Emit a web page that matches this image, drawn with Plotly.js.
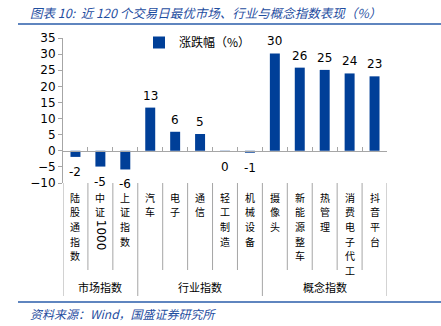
<!DOCTYPE html>
<html><head><meta charset="utf-8">
<script src="https://cdn.plot.ly/plotly-3.0.1.min.js"></script>
<style>html,body{margin:0;padding:0;background:#fff}#c{width:441px;height:326px}</style>
</head><body><div id="c"></div>
<script>
const categories = ["陆股通指数","中证1000","上证指数","汽车","电子","通信","轻工制造","机械设备","摄像头","新能源整车","热管理","消费电子代工","抖音平台"];
const values = [-1.9, -4.9, -5.8, 13.4, 5.9, 5.2, -0.3, -0.6, 30.2, 25.8, 25.1, 24.0, 23.1];
const groupNames = ["市场指数","行业指数","概念指数"];
const groupSizes = [3, 5, 5];
const seriesName = "涨跌幅（%）";
const titleText = "图表 10:  近 120 个交易日最优市场、行业与概念指数表现（%）";
const sourceText = "资料来源：Wind，国盛证券研究所";

const W = 441, H = 326, L = 63, R = 54, T = 38, B = 143;
const plotH = H - T - B, plotW = W - L - R;
const py = p => (H - B - p) / plotH;   // pixel y -> paper y
const px = p => (p - L) / plotW;       // pixel x -> paper x
const blue = "#003f98", grey = "#a6a6a6", textBlue = "#1f4e9f";
const cjk = "'Noto Sans CJK SC', sans-serif";
const num = "'DejaVu Sans', sans-serif";

const annotations = [];
const shapes = [];

// value labels
values.forEach((v, i) => {
  annotations.push({x: i, y: v, xref: "x", yref: "y", text: String(Math.round(v) || 0),
    showarrow: false, xanchor: "center", yanchor: v >= 0 ? "bottom" : "top", yshift: v >= 0 ? 3 : -6,
    font: {family: num, size: 12, color: "#000"}});
});

// vertical category labels (one character per row)
const FS = 10, LS = 14.6;
categories.forEach((c, i) => {
  const segs = c.match(/[0-9]+|[^0-9]/g);
  let yc = 190;
  segs.forEach(t => {
    if (/^[0-9]+$/.test(t)) {
      const len = t.length * 7.5;
      annotations.push({x: i, xref: "x", y: py(yc + 1 + len / 2), yref: "paper", text: t, textangle: 90,
        showarrow: false, xanchor: "center", yanchor: "middle", borderpad: 0,
        font: {family: num, size: 12, color: "#000"}});
      yc += len + 2;
    } else {
      annotations.push({x: i, xref: "x", y: py(yc + LS / 2), yref: "paper", text: t,
        showarrow: false, xanchor: "center", yanchor: "middle", borderpad: 0,
        font: {family: cjk, size: FS, color: "#000"}});
      yc += LS;
    }
  });
});

// separators and group labels
let start = 0;
const bounds = [-0.5];
groupSizes.forEach((n, g) => {
  annotations.push({x: start + (n - 1) / 2, xref: "x", y: py(287), yref: "paper", text: groupNames[g],
    showarrow: false, xanchor: "center", yanchor: "middle", font: {family: cjk, size: 11, color: "#000"}});
  start += n;
  bounds.push(start - 0.5);
});
for (let k = 0; k <= categories.length; k++) {
  const b = k - 0.5;
  const isGroup = bounds.includes(b);
  shapes.push({type: "line", xref: "x", yref: "paper", x0: b, x1: b, y0: 0, y1: py(isGroup ? 296 : 270),
    line: {color: grey, width: 1}});
}
// title/source rules
shapes.push({type: "line", xref: "paper", yref: "paper", x0: px(18), x1: px(441), y0: py(24), y1: py(24), line: {color: "#2a5caa", width: 1.5}});
shapes.push({type: "line", xref: "paper", yref: "paper", x0: px(18), x1: px(441), y0: py(302), y1: py(302), line: {color: "#2a5caa", width: 1.5}});

annotations.push({xref: "paper", yref: "paper", x: px(28), y: py(12), xanchor: "left", yanchor: "middle",
  text: "<i>" + titleText + "</i>", showarrow: false, font: {family: cjk, size: 12.5, color: textBlue}});
annotations.push({xref: "paper", yref: "paper", x: px(28), y: py(313), xanchor: "left", yanchor: "middle",
  text: "<i>" + sourceText + "</i>", showarrow: false, font: {family: cjk, size: 12, color: textBlue}});

const data = [{type: "bar", x: categories.map((c, i) => i), y: values, name: seriesName,
  marker: {color: blue}, hoverinfo: "skip"}];

const layout = {
  width: W, height: H, margin: {l: L, r: R, t: T, b: B},
  paper_bgcolor: "#fff", plot_bgcolor: "#fff", bargap: 0.6, showlegend: true,
  legend: {x: px(139), y: py(28), xanchor: "left", yanchor: "top", bgcolor: "rgba(0,0,0,0)",
    font: {family: cjk, size: 12, color: "#000"}, itemwidth: 30},
  xaxis: {type: "linear", range: [-0.5, categories.length - 0.5], anchor: "free", position: 10 / 45,
    showline: true, linecolor: grey, linewidth: 1, showgrid: false, zeroline: false,
    tickmode: "array", tickvals: bounds.concat(categories.map((c, i) => i + 0.5)).filter(v => v > -0.5 && v < categories.length - 0.5),
    ticks: "inside", ticklen: 4, tickcolor: grey, showticklabels: false, fixedrange: true},
  yaxis: {range: [-10, 35], dtick: 5, tick0: 0, showline: true, linecolor: grey, linewidth: 1,
    ticks: "outside", ticklen: 4, tickcolor: grey, showgrid: false, zeroline: false,
    tickfont: {family: num, size: 12, color: "#000"}, fixedrange: true},
  annotations: annotations, shapes: shapes
};
Plotly.newPlot("c", data, layout, {displayModeBar: false, staticPlot: true});
</script></body></html>
